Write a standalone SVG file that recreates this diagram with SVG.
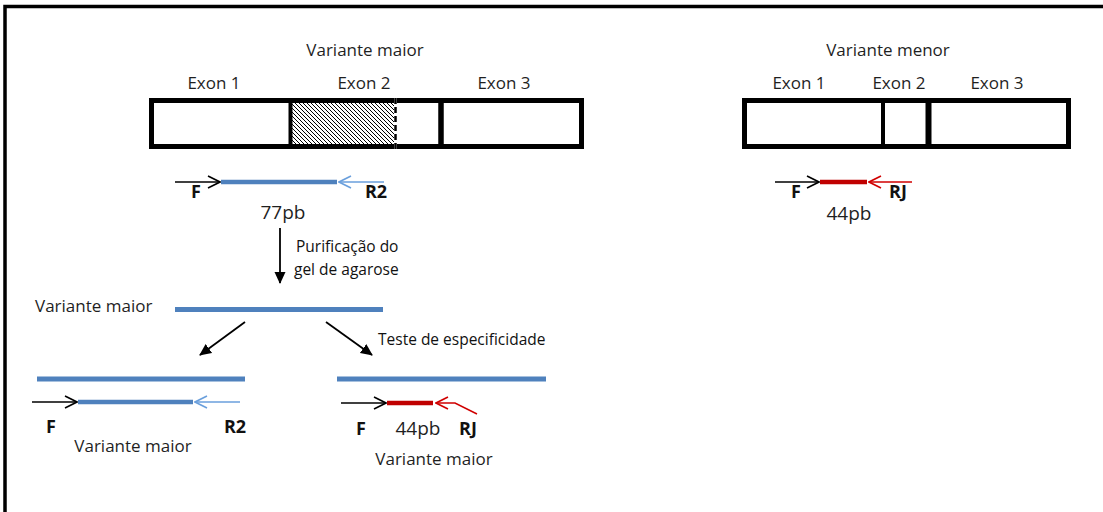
<svg xmlns="http://www.w3.org/2000/svg" width="1103" height="512" viewBox="0 0 1103 512">
  <style>
    .lbl { font-family: "Open Sans", "Liberation Sans", sans-serif; font-size: 17px; fill: #1f1f1f; }
    .bp { font-family: "Open Sans", "Liberation Sans", sans-serif; font-size: 19px; fill: #1f1f1f; }
    .sm { font-family: "Open Sans", "Liberation Sans", sans-serif; font-size: 15.5px; fill: #111; }
    .pr { font-family: "Open Sans", "Liberation Sans", sans-serif; font-size: 18px; font-weight: bold; fill: #111; }
    .box { fill: #fff; stroke: #000; stroke-width: 5; }
    .div { stroke: #000; }
    .dna { stroke: #4f81bd; stroke-width: 5; fill: none; }
    .amp { stroke: #4f81bd; stroke-width: 4.5; fill: none; }
    .ampr { stroke: #c00000; stroke-width: 4.5; fill: none; }
    .fwd { stroke: #000; stroke-width: 1.5; fill: none; }
    .rev { stroke: #6a9fdc; stroke-width: 1.5; fill: none; }
    .revr { stroke: #d00000; stroke-width: 1.5; fill: none; }
    .step { stroke: #000; stroke-width: 1.8; fill: none; }
  </style>
  <defs>
    <pattern id="hatch" width="4" height="4" patternUnits="userSpaceOnUse">
      <path d="M-1,-1 L5,5 M-1,3 L1,5 M3,-1 L5,1" stroke="#000" stroke-width="1"/>
    </pattern>
    <marker id="chevK" viewBox="0 0 14 14" refX="13" refY="7" markerWidth="14" markerHeight="14" markerUnits="userSpaceOnUse" orient="auto">
      <path d="M1,1 L13,7 L1,13" fill="none" stroke="#000" stroke-width="1.6"/>
    </marker>
    <marker id="chevB" viewBox="0 0 14 14" refX="13" refY="7" markerWidth="14" markerHeight="14" markerUnits="userSpaceOnUse" orient="auto">
      <path d="M1,1 L13,7 L1,13" fill="none" stroke="#6a9fdc" stroke-width="1.6"/>
    </marker>
    <marker id="chevR" viewBox="0 0 14 14" refX="13" refY="7" markerWidth="14" markerHeight="14" markerUnits="userSpaceOnUse" orient="auto">
      <path d="M1,1 L13,7 L1,13" fill="none" stroke="#d00000" stroke-width="1.6"/>
    </marker>
    <marker id="solid" viewBox="0 0 12 12" refX="11" refY="6" markerWidth="12" markerHeight="12" markerUnits="userSpaceOnUse" orient="auto">
      <path d="M0,0.5 L12,6 L0,11.5 Z" fill="#000"/>
    </marker>
  </defs>

  <rect width="1103" height="512" fill="#fff"/>

  <!-- outer frame (top and left edges) -->
  <path d="M5,512 L5,6.5 L1103,6.5" fill="none" stroke="#000" stroke-width="3.5"/>

  <!-- major transcript -->
  <g id="variante-maior">
    <text class="lbl" x="365" y="56" text-anchor="middle">Variante maior</text>
    <text class="lbl" x="214" y="89" text-anchor="middle">Exon 1</text>
    <text class="lbl" x="364" y="89" text-anchor="middle">Exon 2</text>
    <text class="lbl" x="504" y="89" text-anchor="middle">Exon 3</text>
    <rect class="box" x="151.5" y="100.5" width="430" height="46"/>
    <rect x="292" y="103" width="102" height="41" fill="url(#hatch)"/>
    <line class="div" x1="290.5" y1="100" x2="290.5" y2="147" stroke-width="4"/>
    <line class="div" x1="441" y1="100" x2="441" y2="147" stroke-width="5.5"/>
    <line x1="395.5" y1="97" x2="395.5" y2="150" stroke="#fff" stroke-width="3"/>
    <line x1="395.5" y1="98" x2="395.5" y2="150" stroke="#000" stroke-width="2.5" stroke-dasharray="6 3"/>
  </g>

  <!-- minor transcript -->
  <g id="variante-menor">
    <text class="lbl" x="888" y="56" text-anchor="middle">Variante menor</text>
    <text class="lbl" x="799" y="89" text-anchor="middle">Exon 1</text>
    <text class="lbl" x="899" y="89" text-anchor="middle">Exon 2</text>
    <text class="lbl" x="997" y="89" text-anchor="middle">Exon 3</text>
    <rect class="box" x="744.5" y="100.5" width="324" height="46"/>
    <line class="div" x1="883" y1="100" x2="883" y2="147" stroke-width="4"/>
    <line class="div" x1="928.5" y1="100" x2="928.5" y2="147" stroke-width="6"/>
  </g>

  <!-- amplicon F/R2 on major transcript -->
  <g id="amplicon-r2">
    <line class="amp" x1="221" y1="182" x2="337" y2="182"/>
    <line class="fwd" x1="175" y1="182" x2="220" y2="182" marker-end="url(#chevK)"/>
    <line class="rev" x1="384" y1="182" x2="339" y2="182" marker-end="url(#chevB)"/>
    <text class="pr" x="196" y="198" text-anchor="middle">F</text>
    <text class="pr" x="376" y="198" text-anchor="middle">R2</text>
    <text class="bp" x="283" y="219" text-anchor="middle">77pb</text>
  </g>

  <!-- amplicon F/RJ on minor transcript -->
  <g id="amplicon-rj">
    <line class="ampr" x1="820" y1="182" x2="867" y2="182"/>
    <line class="fwd" x1="775" y1="182" x2="819" y2="182" marker-end="url(#chevK)"/>
    <line class="revr" x1="912" y1="182" x2="869" y2="182" marker-end="url(#chevR)"/>
    <text class="pr" x="796" y="198" text-anchor="middle">F</text>
    <text class="pr" x="898" y="198" text-anchor="middle">RJ</text>
    <text class="bp" x="849" y="220" text-anchor="middle">44pb</text>
  </g>

  <!-- purified product -->
  <g id="produto-purificado">
    <text class="lbl" x="35" y="312">Variante maior</text>
    <line class="dna" x1="175" y1="309.5" x2="383" y2="309.5"/>
  </g>

  <!-- control: F/R2 on major variant -->
  <g id="controle-r2">
    <line class="dna" x1="37" y1="379" x2="245" y2="379"/>
    <line class="amp" x1="78" y1="402" x2="193" y2="402"/>
    <line class="fwd" x1="32" y1="402" x2="77" y2="402" marker-end="url(#chevK)"/>
    <line class="rev" x1="240" y1="402" x2="195" y2="402" marker-end="url(#chevB)"/>
    <text class="pr" x="51" y="433" text-anchor="middle">F</text>
    <text class="pr" x="235" y="433" text-anchor="middle">R2</text>
    <text class="lbl" x="133" y="452" text-anchor="middle">Variante maior</text>
  </g>

  <!-- specificity test: F/RJ on major variant -->
  <g id="teste-rj">
    <line class="dna" x1="337" y1="379" x2="546" y2="379"/>
    <line class="ampr" x1="387" y1="403" x2="433" y2="403"/>
    <line class="fwd" x1="341" y1="403" x2="386" y2="403" marker-end="url(#chevK)"/>
    <polyline class="revr" points="477,414 455,403 436,403" marker-end="url(#chevR)"/>
    <text class="pr" x="361" y="435" text-anchor="middle">F</text>
    <text class="bp" x="418" y="435" text-anchor="middle">44pb</text>
    <text class="pr" x="468" y="435" text-anchor="middle">RJ</text>
    <text class="lbl" x="434" y="465" text-anchor="middle">Variante maior</text>
  </g>

  <!-- process steps -->
  <g id="connectors">
    <line class="step" x1="280" y1="228" x2="280" y2="283" marker-end="url(#solid)"/>
    <line class="step" x1="245" y1="322" x2="200" y2="355" marker-end="url(#solid)"/>
    <line class="step" x1="326" y1="322" x2="372" y2="355" marker-end="url(#solid)"/>
    <text class="sm" x="296" y="252">Purificação do</text>
    <text class="sm" x="294" y="275">gel de agarose</text>
    <text class="sm" x="378" y="345">Teste de especificidade</text>
  </g>
</svg>
